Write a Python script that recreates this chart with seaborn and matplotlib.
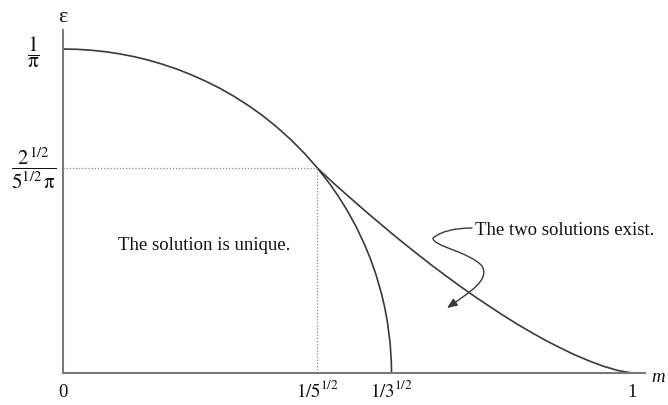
import numpy as np
import pandas as pd
import seaborn as sns
import matplotlib
matplotlib.use("Agg")
import matplotlib.pyplot as plt
from matplotlib.path import Path
from matplotlib.patches import FancyArrowPatch

# Upper branch (0 <= m <= 1/sqrt5), continued by the inner branch down to m = 1/sqrt3
m_inner = [0.0, 0.025, 0.05, 0.075, 0.10, 0.125, 0.15, 0.175, 0.20, 0.225, 0.25,
           0.275, 0.30, 0.325, 0.35, 0.375, 0.40, 0.425, 0.4472,
           0.47, 0.485, 0.50, 0.515, 0.53, 0.54, 0.55, 0.56, 0.565, 0.57,
           0.575, 0.577, 0.5774]
eps_inner = [0.3183, 0.3180, 0.3171, 0.3156, 0.3135, 0.3108, 0.3074, 0.3033, 0.2986, 0.2931, 0.2869,
             0.2799, 0.2720, 0.2631, 0.2532, 0.2420, 0.2295, 0.2154, 0.2013,
             0.1849, 0.1727, 0.1592, 0.1439, 0.1262, 0.1126, 0.0968, 0.0774, 0.0655, 0.0506,
             0.0287, 0.0111, 0.0]

# Outer branch from m = 1/sqrt5 to m = 1
m_outer = [0.4472, 0.46, 0.48, 0.50, 0.52, 0.54, 0.56, 0.58, 0.60, 0.625, 0.65, 0.675,
           0.70, 0.725, 0.75, 0.775, 0.80, 0.825, 0.85, 0.875, 0.90, 0.925, 0.95, 0.975, 1.0]
eps_outer = [0.2013, 0.1945, 0.1843, 0.1744, 0.1646, 0.1549, 0.1455, 0.1361, 0.1270, 0.1159,
             0.1050, 0.0946, 0.0844, 0.0746, 0.0653, 0.0561, 0.0474, 0.0393, 0.0315, 0.0244,
             0.0177, 0.0118, 0.0066, 0.0025, 0.0]

# Special abscissae and ordinates marked on the axes
x_marks = [0.0, 1 / np.sqrt(5), 1 / np.sqrt(3), 1.0]
x_mark_labels = ["0", r"$1/5^{1/2}$", r"$1/3^{1/2}$", "1"]
y_marks = [1 / np.pi, np.sqrt(2) / (np.sqrt(5) * np.pi)]
y_mark_labels = [r"$\dfrac{1}{\mathrm{\pi}}$", r"$\dfrac{2^{\,1/2}}{5^{1/2}\,\mathrm{\pi}}$"]

sns.set_theme(style="white")
plt.rcParams["font.family"] = ["Liberation Serif", "DejaVu Serif"]
plt.rcParams["mathtext.fontset"] = "stix"

W, H = 668, 405
fig = plt.figure(figsize=(W / 100, H / 100), dpi=100)
fig.patch.set_facecolor("white")

# axes box: x from px 63 to 645, y from px 30 to 373
ax = fig.add_axes([63 / W, (H - 373) / H, (645 - 63) / W, (373 - 30) / H])
ax.set_facecolor("white")
ax.set_xlim(0, (645 - 63) / 569)
ax.set_ylim(0, (373 - 30) / 324 * (1 / np.pi))

curve_col = "#3a3a3a"
axis_col = "#7a7a7a"

inner = pd.DataFrame({"m": m_inner, "eps": eps_inner})
outer = pd.DataFrame({"m": m_outer, "eps": eps_outer})
sns.lineplot(data=inner, x="m", y="eps", sort=False, estimator=None,
             color=curve_col, lw=1.2, ax=ax)
sns.lineplot(data=outer, x="m", y="eps", sort=False, estimator=None,
             color=curve_col, lw=1.2, ax=ax)

# dotted guides to the branching point
xb, yb = x_marks[1], y_marks[1]
ax.plot([0, xb], [yb, yb], ls=(0, (1, 1.5)), color="#8a8a8a", lw=0.9)
ax.plot([xb, xb], [0, yb], ls=(0, (1, 1.5)), color="#8a8a8a", lw=0.9)

for side in ["top", "right"]:
    ax.spines[side].set_visible(False)
for side in ["left", "bottom"]:
    ax.spines[side].set_color(axis_col)
    ax.spines[side].set_linewidth(1.5)
ax.set_xticks([])
ax.set_yticks([])
ax.set_xlabel("")
ax.set_ylabel("")

fs = 13.5
txt_col = "#111111"

# x-axis marks
xt = ax.get_xaxis_transform()
for xv, lab in zip(x_marks, x_mark_labels):
    ax.text(xv, (373 - 397) / 343, lab, transform=xt, ha="center", va="baseline",
            fontsize=fs, color=txt_col)
ax.text(1.0 + (658 - 632) / 569, (373 - 378) / 343, "m", transform=xt,
        ha="center", va="center", fontsize=fs, style="italic", color=txt_col)

# y-axis marks
yt = ax.get_yaxis_transform()
ax.text((33 - 63) / 582, y_marks[0] - 0.003, y_mark_labels[0], transform=yt,
        ha="center", va="center", fontsize=15.5, color=txt_col)
ax.text((34 - 63) / 582, y_marks[1], y_mark_labels[1], transform=yt,
        ha="center", va="center", fontsize=15, color=txt_col)
ax.text(0, (373 - 17) / 343, "ε", transform=ax.transAxes, ha="center", va="center",
        fontsize=16, color=txt_col)

# region captions
ax.text((204 - 63) / 569, (373 - 245) / 324 / np.pi, "The solution is unique.",
        ha="center", va="center", fontsize=fs, color=txt_col)
ax.text((475 - 63) / 569, (373 - 230) / 324 / np.pi, "The two solutions exist.",
        ha="left", va="center", fontsize=fs, color=txt_col)


def px(x, y):
    return ((x - 63) / 569, (373 - y) / 324 / np.pi)


leader = Path(
    [px(472, 228), px(445, 228), px(433, 238),
     px(432, 246), px(470, 252), px(482, 266),
     px(490, 280), px(470, 292), px(447, 308)],
    [Path.MOVETO, Path.CURVE3, Path.CURVE3,
     Path.CURVE4, Path.CURVE4, Path.CURVE4,
     Path.CURVE4, Path.CURVE4, Path.CURVE4],
)
arrow = FancyArrowPatch(path=leader, arrowstyle="-|>,head_length=6,head_width=2.5",
                        color=curve_col, lw=1.0, mutation_scale=1)
ax.add_patch(arrow)

fig.savefig("out.png", dpi=100, facecolor="white")
